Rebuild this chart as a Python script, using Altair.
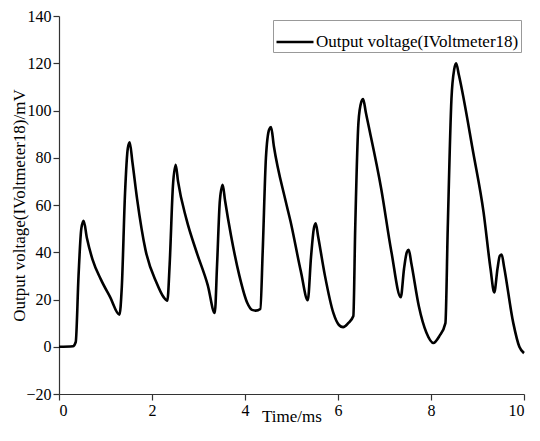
import altair as alt
import pandas as pd

series_name = "Output voltage(IVoltmeter18)"

time_ms = [0.00, 0.30, 0.36, 0.42, 0.48, 0.53, 0.60, 0.72, 0.90, 1.10, 1.30,
           1.35, 1.42, 1.48, 1.52, 1.58, 1.68, 1.86, 2.10, 2.25, 2.33,
           2.38, 2.45, 2.51, 2.56, 2.74, 2.96, 3.20, 3.35,
           3.40, 3.46, 3.52, 3.57, 3.70, 3.88, 4.05, 4.15, 4.23, 4.33,
           4.38, 4.45, 4.52, 4.56, 4.62, 4.87, 4.98, 5.20, 5.35,
           5.42, 5.48, 5.52, 5.57, 5.72, 5.90, 6.02, 6.11, 6.22, 6.33,
           6.37, 6.44, 6.50, 6.54, 6.60, 6.93, 7.15, 7.35,
           7.42, 7.48, 7.52, 7.58, 7.74, 7.90, 8.05, 8.18, 8.31,
           8.36, 8.44, 8.50, 8.54, 8.60, 8.91, 9.13, 9.28, 9.36,
           9.43, 9.48, 9.52, 9.57, 9.77, 9.90, 10.00]

voltage_mv = [0.0, 0.2, 2.0, 30.0, 50.0, 53.3, 46.0, 37.0, 28.5, 21.0, 13.6,
              25.0, 65.0, 84.0, 86.5, 78.0, 62.5, 41.0, 27.0, 21.0, 19.5,
              35.0, 68.0, 77.0, 70.0, 54.0, 40.0, 26.0, 14.3,
              35.0, 62.0, 68.5, 62.0, 47.0, 30.0, 18.5, 15.6, 15.3, 16.0,
              40.0, 80.0, 92.0, 93.0, 85.0, 62.0, 53.0, 32.0, 19.7,
              38.0, 50.0, 52.3, 47.0, 30.0, 14.3, 9.2, 8.3, 10.0, 13.0,
              50.0, 95.0, 103.5, 104.8, 99.0, 66.8, 40.0, 21.0,
              33.0, 40.0, 41.0, 35.0, 17.0, 6.0, 1.6, 4.5, 10.0,
              50.0, 105.0, 117.5, 120.0, 115.0, 82.0, 57.0, 33.0, 23.0,
              33.0, 38.5, 39.0, 34.0, 10.0, 0.0, -2.7]

x_ticks = [0, 2, 4, 6, 8, 10]
y_ticks = [-20, 0, 20, 40, 60, 80, 100, 120, 140]

df = pd.DataFrame({"t": time_ms, "v": voltage_mv, "series": series_name})

FONT = "Liberation Serif"

axis_style = dict(
    grid=False,
    labelFont=FONT, labelFontSize=16, labelColor="#000000",
    titleFont=FONT, titleFontSize=17, titleFontWeight="normal",
    titleColor="#000000",
    domainColor="#333333", tickColor="#333333", domainWidth=1.2,
    tickWidth=1.2, tickSize=6, labelPadding=2,
)

chart = alt.Chart(df).mark_line(
    interpolate="monotone", strokeWidth=2.6
).encode(
    x=alt.X("t:Q", scale=alt.Scale(domain=[0, 10], nice=False),
            axis=alt.Axis(title="Time/ms", values=x_ticks,
                          titleY=14, titleBaseline="top", **axis_style)),
    y=alt.Y("v:Q", scale=alt.Scale(domain=[-20, 140], nice=False),
            axis=alt.Axis(title="Output voltage(IVoltmeter18)/mV",
                          values=y_ticks, titleX=-40,
                          titleBaseline="middle", **axis_style)),
    color=alt.Color("series:N", scale=alt.Scale(range=["#000000"]),
                    legend=alt.Legend(title=None, orient="none",
                                      legendX=214, legendY=4,
                                      symbolType="stroke", symbolSize=1369,
                                      symbolStrokeWidth=2.6,
                                      symbolStrokeColor="#000000",
                                      labelFont=FONT, labelFontSize=17,
                                      labelColor="#000000", labelOffset=1,
                                      labelLimit=400,
                                      strokeColor="#999999", padding=2,
                                      cornerRadius=0)),
).properties(
    width=465, height=378,
    autosize=alt.AutoSizeParams(type="none"),
    padding={"left": 51, "top": 8, "right": 8, "bottom": 32},
).configure_view(
    stroke=None
)

chart.save("out.html", embed_options={"renderer": "svg", "actions": False})
